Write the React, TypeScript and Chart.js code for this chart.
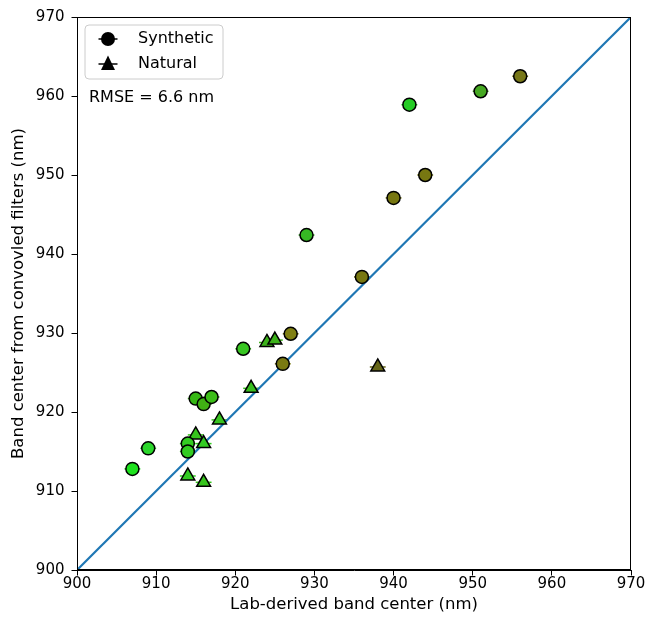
import React, { useEffect, useRef } from "react";
import { Chart, registerables } from "chart.js";

Chart.register(...registerables);

const synX = [907, 909, 914, 914, 915, 916, 917, 921, 926, 927, 929, 936, 940, 942, 944, 951, 956];
const synY = [912.8, 915.4, 916.0, 915.0, 921.7, 921.0, 921.9, 928.0, 926.1, 929.9, 942.4, 937.1, 947.1, 958.9, 950.0, 960.6, 962.5];
const synColors = ["#1ee21e", "#2bd62b", "#33cc22", "#33cc22", "#36b814", "#40b014", "#3cbe18", "#38c622", "#7a7a12", "#808012", "#36b824", "#777711", "#777711", "#24cc24", "#777711", "#46a822", "#777718"];

const natX = [914, 915, 916, 916, 918, 922, 924, 925, 938];
const natY = [911.9, 917.1, 916.0, 911.1, 919.0, 923.0, 928.8, 929.1, 925.7];
const natColors = ["#33cc22", "#36c41c", "#33cc22", "#36c41c", "#38c420", "#38be1e", "#3cb21a", "#3cb21a", "#666618"];

const xErr = 1;
const lineX = [900, 970];
const ticksVals = [900, 910, 920, 930, 940, 950, 960, 970];
const legendLabels = ["Synthetic", "Natural"];
const rmseText = "RMSE = 6.6 nm";
const xTitle = "Lab-derived band center (nm)";
const yTitle = "Band center from convovled filters (nm)";

const FONT = "'DejaVu Sans', sans-serif";

export default function App() {
  const ref = useRef<HTMLCanvasElement | null>(null);
  useEffect(() => {
    document.body.style.margin = "0";
    const canvas = ref.current!;
    const errPlugin = {
      id: "errbars",
      beforeDatasetsDraw(chart: any) {
        const ctx = chart.ctx;
        const xs = chart.scales.x, ys = chart.scales.y;
        ctx.save();
        ctx.lineWidth = 1.5;
        const drawSet = (X: number[], Y: number[], C: string[]) => {
          X.forEach((x, i) => {
            ctx.strokeStyle = C[i];
            ctx.beginPath();
            const py = ys.getPixelForValue(Y[i]);
            ctx.moveTo(xs.getPixelForValue(x - xErr), py);
            ctx.lineTo(xs.getPixelForValue(x + xErr), py);
            ctx.stroke();
          });
        };
        drawSet(synX, synY, synColors);
        drawSet(natX, natY, natColors);
        ctx.restore();
      },
      afterDraw(chart: any) {
        const ctx = chart.ctx;
        const a = chart.chartArea;
        ctx.save();
        ctx.strokeStyle = "#000";
        ctx.lineWidth = 1;
        ctx.strokeRect(a.left + 0.5, a.top + 0.5, a.right - a.left - 1, a.bottom - a.top - 1);
        // legend box
        const bx = 85, by = 25, bw = 138, bh = 54, r = 4;
        ctx.beginPath();
        ctx.moveTo(bx + r, by);
        ctx.lineTo(bx + bw - r, by);
        ctx.quadraticCurveTo(bx + bw, by, bx + bw, by + r);
        ctx.lineTo(bx + bw, by + bh - r);
        ctx.quadraticCurveTo(bx + bw, by + bh, bx + bw - r, by + bh);
        ctx.lineTo(bx + r, by + bh);
        ctx.quadraticCurveTo(bx, by + bh, bx, by + bh - r);
        ctx.lineTo(bx, by + r);
        ctx.quadraticCurveTo(bx, by, bx + r, by);
        ctx.closePath();
        ctx.fillStyle = "rgba(255,255,255,0.85)";
        ctx.fill();
        ctx.strokeStyle = "#cccccc";
        ctx.stroke();
        // markers
        ctx.fillStyle = "#000";
        ctx.strokeStyle = "#000";
        ctx.lineWidth = 1.5;
        const mx = 108;
        const y1 = 39, y2 = 64;
        ctx.beginPath();
        ctx.moveTo(mx - 9.5, y1); ctx.lineTo(mx + 9.5, y1); ctx.stroke();
        ctx.beginPath(); ctx.arc(mx, y1, 7, 0, Math.PI * 2); ctx.fill();
        ctx.beginPath();
        ctx.moveTo(mx - 9.5, y2); ctx.lineTo(mx + 9.5, y2); ctx.stroke();
        ctx.beginPath();
        ctx.moveTo(mx, y2 - 8.5); ctx.lineTo(mx + 7, y2 + 6); ctx.lineTo(mx - 7, y2 + 6); ctx.closePath(); ctx.fill();
        ctx.font = "16px " + FONT;
        ctx.textBaseline = "middle";
        ctx.textAlign = "left";
        ctx.fillText(legendLabels[0], 138, y1);
        ctx.fillText(legendLabels[1], 138, y2);
        ctx.fillText(rmseText, 89, 98);
        ctx.restore();
      },
    };

    const chart = new Chart(canvas, {
      type: "scatter",
      data: {
        datasets: [
          {
            type: "line",
            data: lineX.map((v) => ({ x: v, y: v })),
            borderColor: "#1f77b4",
            borderWidth: 2.2,
            pointRadius: 0,
            order: 3,
          } as any,
          {
            data: synX.map((x, i) => ({ x, y: synY[i] })),
            backgroundColor: synColors,
            borderColor: "#000",
            borderWidth: 1.5,
            pointRadius: 6.5,
            pointStyle: "circle",
            order: 1,
          },
          {
            data: natX.map((x, i) => ({ x, y: natY[i] })),
            backgroundColor: natColors,
            borderColor: "#000",
            borderWidth: 1.5,
            pointRadius: 8,
            pointStyle: "triangle",
            order: 2,
          },
        ],
      },
      options: {
        animation: false,
        responsive: false,
        layout: { padding: { left: 5, top: 17, right: 18, bottom: 0 } },
        plugins: { legend: { display: false }, tooltip: { enabled: false } },
        scales: {
          x: {
            type: "linear",
            min: 900,
            max: 970,
            afterBuildTicks: (s: any) => { s.ticks = ticksVals.map((v) => ({ value: v })); },
            afterFit: (s: any) => { s.height = 49; },
            ticks: { color: "#000", font: { size: 15, family: FONT }, padding: 0 },
            grid: { display: true, drawOnChartArea: false, drawTicks: true, tickLength: 5.5, color: "#000" },
            border: { display: true, color: "#000" },
            title: { display: true, text: xTitle, color: "#000", font: { size: 16.5, family: FONT }, padding: { top: 6 } },
          },
          y: {
            type: "linear",
            min: 900,
            max: 970,
            afterBuildTicks: (s: any) => { s.ticks = ticksVals.map((v) => ({ value: v })); },
            afterFit: (s: any) => { s.width = 72; },
            ticks: { color: "#000", font: { size: 15, family: FONT }, padding: 7 },
            grid: { display: true, drawOnChartArea: false, drawTicks: true, tickLength: 5.5, color: "#000" },
            border: { display: true, color: "#000" },
            title: { display: true, text: yTitle, color: "#000", font: { size: 16.5, family: FONT }, padding: { bottom: 4 } },
          },
        },
      },
      plugins: [errPlugin],
    } as any);
    return () => chart.destroy();
  }, []);
  return (
    <div style={{ width: 649, height: 619 }}>
      <canvas ref={ref} width={649} height={619} style={{ display: "block" }} />
    </div>
  );
}
